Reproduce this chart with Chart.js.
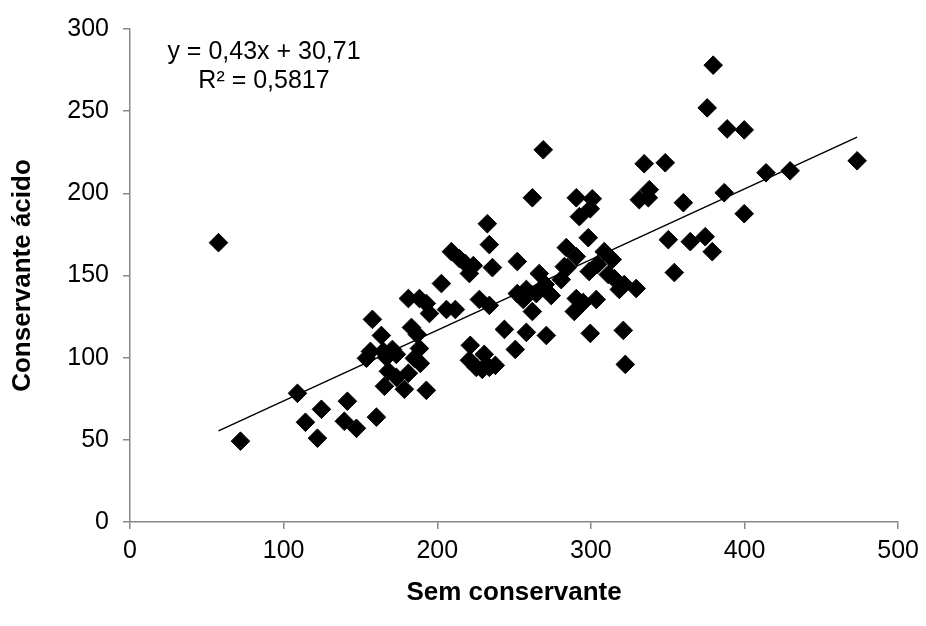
<!DOCTYPE html>
<html>
<head>
<meta charset="utf-8">
<script src="https://cdn.jsdelivr.net/npm/chart.js@4/dist/chart.umd.min.js"></script>
<style>
  html, body { margin: 0; padding: 0; background: #fff; }
  #wrap { width: 926px; height: 626px; }
</style>
</head>
<body>
<div id="wrap"><canvas id="dispersao" width="926" height="626"></canvas></div>
<script>
const semConservante = [57.6, 71.9, 109, 114.2, 122, 124.6, 139.5, 141.5, 147.4, 153.9,
  157.8, 156.5, 160.4, 163.6, 164.9, 166.9, 168.2, 165.6, 170.8, 173.4,
  173.4, 178.6, 181.2, 183.2, 185.1, 187, 188.4, 189, 181.2, 188.4,
  192.9, 194.9, 192.9, 202.7, 206, 209.2, 211.8, 214.4, 218.3, 220.9,
  221.5, 220.9, 223.5, 227.4, 225.4, 229.3, 230.6, 232.6, 233.9, 233.9,
  235.9, 233.9, 237.8, 243.7, 250.8, 252.1, 252.1, 256, 258, 258,
  261.9, 261.9, 264.5, 266.4, 269, 270.3, 271, 274.2, 280.7, 282.7,
  284, 284.6, 289.2, 290.5, 290.5, 290.5, 292.5, 295, 298.3, 298.9,
  299.6, 300.9, 299.6, 303.5, 304.2, 308.7, 311.3, 313.9, 315.2, 318.5,
  321.7, 321.1, 322.4, 329.5, 331.5, 334.7, 337.4, 338, 348.4, 350.4,
  354.3, 360.2, 364.7, 374.4, 375.7, 379, 379.6, 388.7, 386.8, 399.8,
  399.8, 414, 429.7, 473.3];
const conservanteAcido = [170, 49.2, 78.3, 60.7, 51, 68.6, 61.3, 73.5, 57, 99.6,
  123.3, 103.8, 63.8, 113.5, 103.8, 100.2, 91.7, 82.6, 105, 102,
  88, 80.8, 90.5, 118.4, 99.6, 114.1, 105.6, 96.5, 136, 136,
  133, 126.9, 80.1, 145.1, 129.3, 164.5, 129.3, 160.3, 157.3, 151.2,
  107.5, 98.4, 156, 135.4, 94.1, 92.9, 102, 181.5, 168.8, 131.8,
  154.8, 94.1, 95.3, 117.2, 105, 139, 158.5, 135.4, 141.5, 115.4,
  197.3, 128.1, 139, 151.2, 226.5, 144.5, 113.5, 137.8, 147.5, 155.4,
  167, 154.8, 128.1, 136, 161.5, 197.3, 185.8, 133.6, 173, 152.4,
  190.6, 196.7, 114.8, 135.4, 156.6, 164.5, 150.6, 159.7, 148.1, 141.5,
  144.5, 116.6, 95.9, 142.1, 196.1, 218, 197.3, 202.2, 218.6, 171.8,
  151.8, 194.3, 170.6, 173.6, 252, 164.5, 278, 239.2, 200.4, 187.6,
  238.6, 212.5, 213.7, 219.8];

// linha de tendencia (Excel): y = 0,43x + 30,71
const inclinacao = 0.43;
const intercepto = 30.71;
const tendenciaX = [57.6, 473.3];
const equacao = ["y = 0,43x + 30,71", "R\u00b2 = 0,5817"];

const pontos = semConservante.map((x, i) => ({ x: x, y: conservanteAcido[i] }));
const tendencia = tendenciaX.map(x => ({ x: x, y: inclinacao * x + intercepto }));

const fonte = "'Liberation Sans', Arial, sans-serif";

const textoEquacao = {
  id: "textoEquacao",
  afterDraw(chart) {
    const ctx = chart.ctx;
    ctx.save();
    ctx.fillStyle = "#000";
    ctx.font = "25px " + fonte;
    ctx.textAlign = "center";
    ctx.textBaseline = "middle";
    ctx.fillText(equacao[0], 264, 52);
    ctx.fillText(equacao[1], 264, 81);
    ctx.restore();
  }
};

new Chart(document.getElementById("dispersao"), {
  type: "scatter",
  data: {
    datasets: [
      {
        type: "line",
        data: tendencia,
        borderColor: "#000",
        borderWidth: 1.5,
        pointRadius: 0,
        fill: false,
        tension: 0
      },
      {
        data: pontos,
        pointStyle: "rectRot",
        pointRadius: 9.3,
        pointHoverRadius: 9.3,
        backgroundColor: "#000",
        borderColor: "#000",
        borderWidth: 1
      }
    ]
  },
  options: {
    responsive: false,
    animation: false,
    layout: { padding: { top: 27, right: 26, left: 0, bottom: 0 } },
    plugins: {
      legend: { display: false },
      tooltip: { enabled: false }
    },
    scales: {
      x: {
        type: "linear",
        min: 0,
        max: 500,
        afterFit(scale) { scale.height = 104; },
        ticks: { stepSize: 100, color: "#000", padding: 7, font: { family: fonte, size: 25 } },
        grid: { drawOnChartArea: false, tickLength: 7, color: "#888", lineWidth: 1.5 },
        border: { color: "#888", width: 1.5 },
        title: {
          display: true,
          text: "Sem conservante",
          color: "#000",
          font: { family: fonte, size: 26, weight: "bold" },
          padding: { top: 0, bottom: 18 }
        }
      },
      y: {
        min: 0,
        max: 300,
        afterFit(scale) { scale.width = 130; },
        ticks: { stepSize: 50, color: "#000", padding: 14, font: { family: fonte, size: 25 } },
        grid: { drawOnChartArea: false, tickLength: 7, color: "#888", lineWidth: 1.5 },
        border: { color: "#888", width: 1.5 },
        title: {
          display: true,
          text: "Conservante ácido",
          color: "#000",
          font: { family: fonte, size: 26, weight: "bold" },
          padding: { top: 7, bottom: 0 }
        }
      }
    }
  },
  plugins: [textoEquacao]
});
</script>
</body>
</html>
